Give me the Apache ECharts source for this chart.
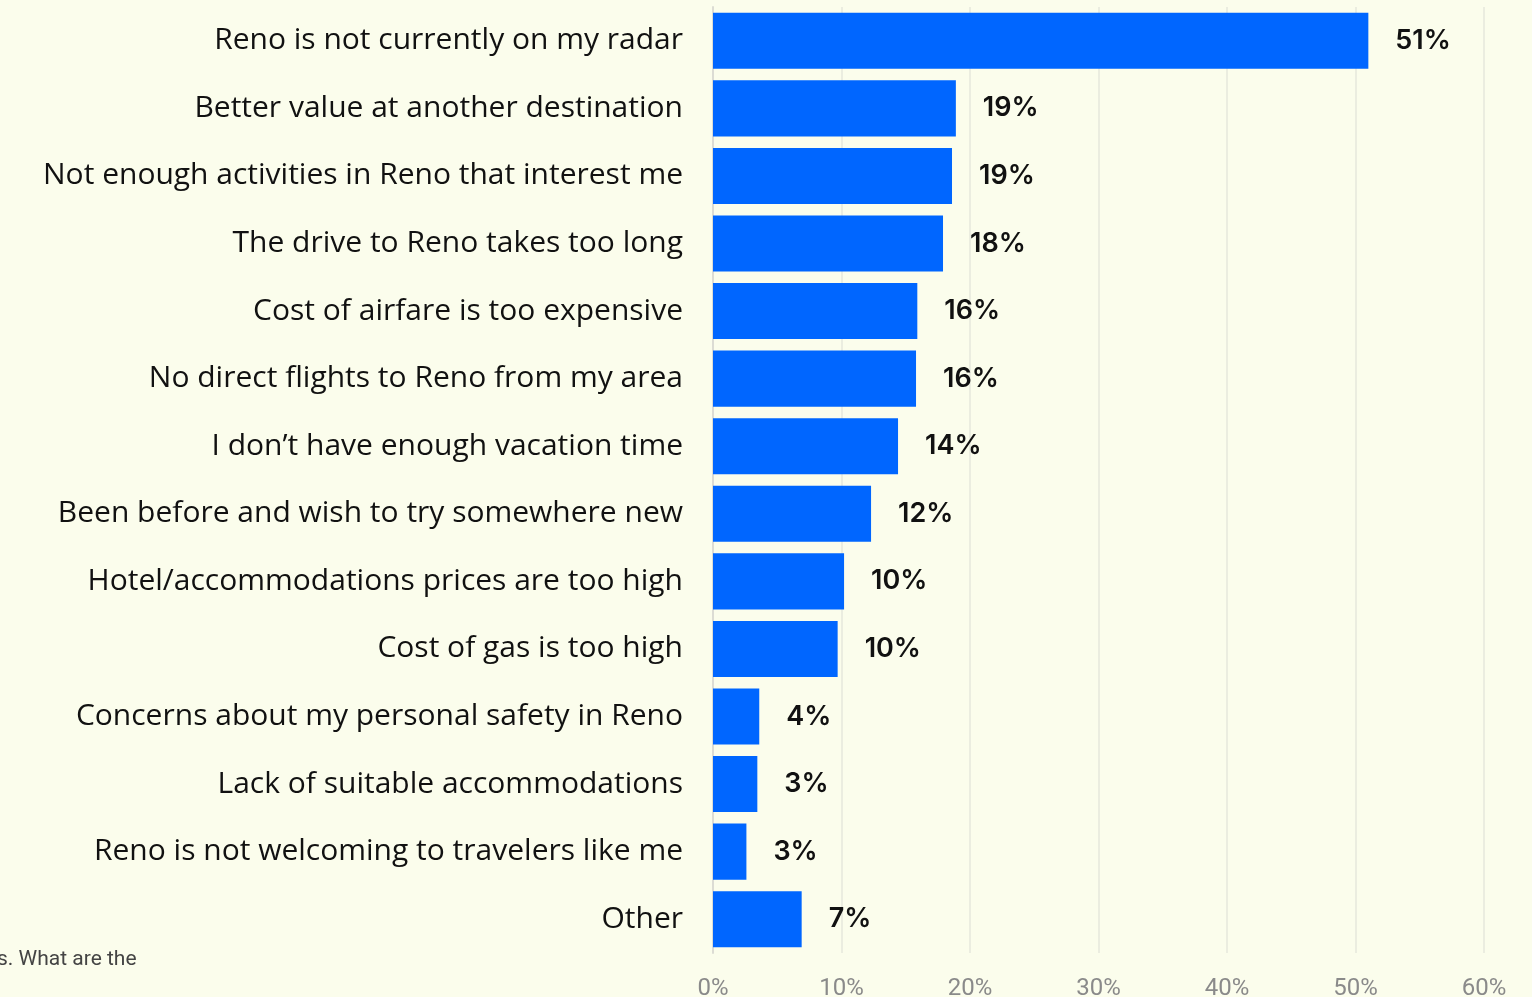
<!DOCTYPE html>
<html>
<head>
<meta charset="utf-8">
<script src="https://cdn.jsdelivr.net/npm/echarts@6/dist/echarts.min.js"></script>
<style>
  html, body { margin: 0; padding: 0; background: #fbfdec; }
  #chart { width: 1532px; height: 997px; }
</style>
</head>
<body>
<div id="chart"></div>
<script>
// Reasons for not visiting Reno, share of respondents (%)
const categories = [
  "Reno is not currently on my radar",
  "Better value at another destination",
  "Not enough activities in Reno that interest me",
  "The drive to Reno takes too long",
  "Cost of airfare is too expensive",
  "No direct flights to Reno from my area",
  "I don\u2019t have enough vacation time",
  "Been before and wish to try somewhere new",
  "Hotel/accommodations prices are too high",
  "Cost of gas is too high",
  "Concerns about my personal safety in Reno",
  "Lack of suitable accommodations",
  "Reno is not welcoming to travelers like me",
  "Other"
];
const shares = [51.0, 18.9, 18.6, 17.9, 15.9, 15.8, 14.4, 12.3, 10.2, 9.7, 3.6, 3.45, 2.6, 6.9];
const tickValues = [0, 10, 20, 30, 40, 50, 60];
const footnote = "s. What are the";

const chart = echarts.init(document.getElementById('chart'), null, { renderer: 'canvas' });

chart.setOption({
  backgroundColor: '#fbfdec',
  animation: false,
  grid: {
    left: 713, right: 48, top: 7, bottom: 44,
    containLabel: false,
    outerBoundsMode: 'none'
  },
  xAxis: {
    type: 'value',
    min: tickValues[0],
    max: tickValues[tickValues.length - 1],
    interval: 10,
    axisLine: { show: false },
    axisTick: { show: false },
    splitLine: { show: true, lineStyle: { color: '#ebede0', width: 2 } },
    axisLabel: {
      formatter: v => v + '%',
      color: '#8a8a8a',
      fontSize: 24,
      fontFamily: 'Roboto, sans-serif',
      margin: 24
    }
  },
  yAxis: {
    type: 'category',
    inverse: true,
    data: categories,
    axisLine: { show: true, lineStyle: { color: '#dcdcd4', width: 2 } },
    axisTick: { show: false },
    axisLabel: {
      color: '#111111',
      fontSize: 30,
      fontFamily: '"Open Sans", sans-serif',
      margin: 30
    }
  },
  series: [{
    type: 'bar',
    data: shares,
    barCategoryGap: '17%',
    itemStyle: { color: '#0066ff' },
    label: {
      show: true,
      position: 'right',
      distance: 27,
      formatter: p => Math.round(p.value) + '%',
      color: '#111111',
      fontSize: 27,
      fontWeight: 600,
      fontFamily: 'Inter, sans-serif'
    }
  }],
  graphic: [{
    type: 'text',
    left: -3,
    top: 949,
    style: {
      text: footnote,
      fill: '#444444',
      fontSize: 21,
      fontFamily: 'Roboto, sans-serif'
    }
  }]
});
</script>
</body>
</html>
